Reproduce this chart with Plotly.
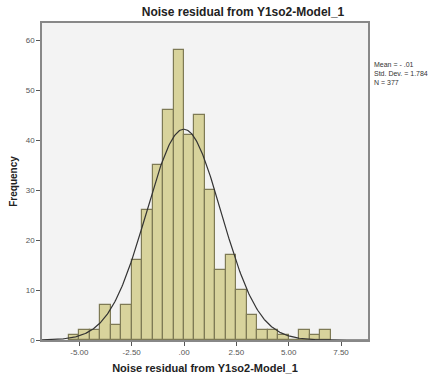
import numpy as np
import plotly.graph_objects as go

# Histogram data (bin width 0.5)
bin_left = [-5.5, -5.0, -4.5, -4.0, -3.5, -3.0, -2.5, -2.0, -1.5, -1.0, -0.5,
            0.0, 0.5, 1.0, 1.5, 2.0, 2.5, 3.0, 3.5, 4.0, 4.5, 5.0, 5.5, 6.0, 6.5]
counts = [1, 2, 2, 7, 3, 7, 16, 26, 35, 46, 58,
          41, 45, 30, 14, 17, 10, 5, 2, 2, 1, 0, 2, 1, 2]
bin_width = 0.5

stat_mean = -0.01
stat_sd = 1.784
stat_n = 377

x_ticks = [-5.0, -2.5, 0.0, 2.5, 5.0, 7.5]
x_ticklabels = ["-5.00", "-2.50", ".00", "2.50", "5.00", "7.50"]
y_ticks = [0, 10, 20, 30, 40, 50, 60]

x_range = [-6.785, 8.79]
y_range = [0, 63.4]

centers = [b + bin_width / 2 for b in bin_left]

# fitted normal curve from the reported statistics
xc = np.linspace(x_range[0], x_range[1], 400)
yc = stat_n * bin_width / (stat_sd * np.sqrt(2 * np.pi)) * np.exp(-0.5 * ((xc - stat_mean) / stat_sd) ** 2)

fig = go.Figure()
fig.add_trace(go.Bar(
    x=centers, y=counts, width=bin_width,
    marker=dict(color="#d8d39c", line=dict(color="#7e7a55", width=1.2)),
    hoverinfo="x+y", showlegend=False,
))
fig.add_trace(go.Scatter(
    x=xc, y=yc, mode="lines",
    line=dict(color="#333333", width=1.2), showlegend=False, hoverinfo="skip",
))

fig.update_layout(
    width=438, height=385,
    margin=dict(l=42, r=70, t=23, b=40),
    paper_bgcolor="white",
    plot_bgcolor="#f3f3f3",
    font=dict(family="Liberation Sans, Arial, sans-serif", color="#222"),
    bargap=0,
    title=dict(text="<b>Noise residual from Y1so2-Model_1</b>",
               x=243 / 438, xanchor="center", y=1 - 12 / 385, yanchor="middle",
               font=dict(size=12, color="#222")),
    xaxis=dict(
        range=x_range, tickvals=x_ticks, ticktext=x_ticklabels,
        ticks="outside", ticklen=4, tickcolor="#555", tickwidth=1,
        tickfont=dict(size=8, color="#555"),
        showgrid=False, zeroline=False,
        showline=True, linecolor="#888", linewidth=1.5, mirror=True,
        title=dict(text="<b>Noise residual from Y1so2-Model_1</b>",
                   font=dict(size=11, color="#222"), standoff=8),
    ),
    yaxis=dict(
        range=y_range, tickvals=y_ticks,
        ticks="outside", ticklen=4, tickcolor="#555", tickwidth=1,
        tickfont=dict(size=8, color="#555"),
        showgrid=False, zeroline=False,
        showline=True, linecolor="#888", linewidth=1.5, mirror=True,
        title=dict(text="<b>Frequency</b>", font=dict(size=10, color="#222"), standoff=6),
    ),
)

fig.add_annotation(
    xref="paper", yref="paper", x=1.0, y=1 - (60 - 23) / 322,
    xanchor="left", yanchor="top", xshift=4, align="left", showarrow=False,
    text=f"Mean = - .01<br>Std. Dev. = {stat_sd:.3f}<br>N = {stat_n}",
    font=dict(size=7, color="#333"),
)

fig.write_html("out.html")
